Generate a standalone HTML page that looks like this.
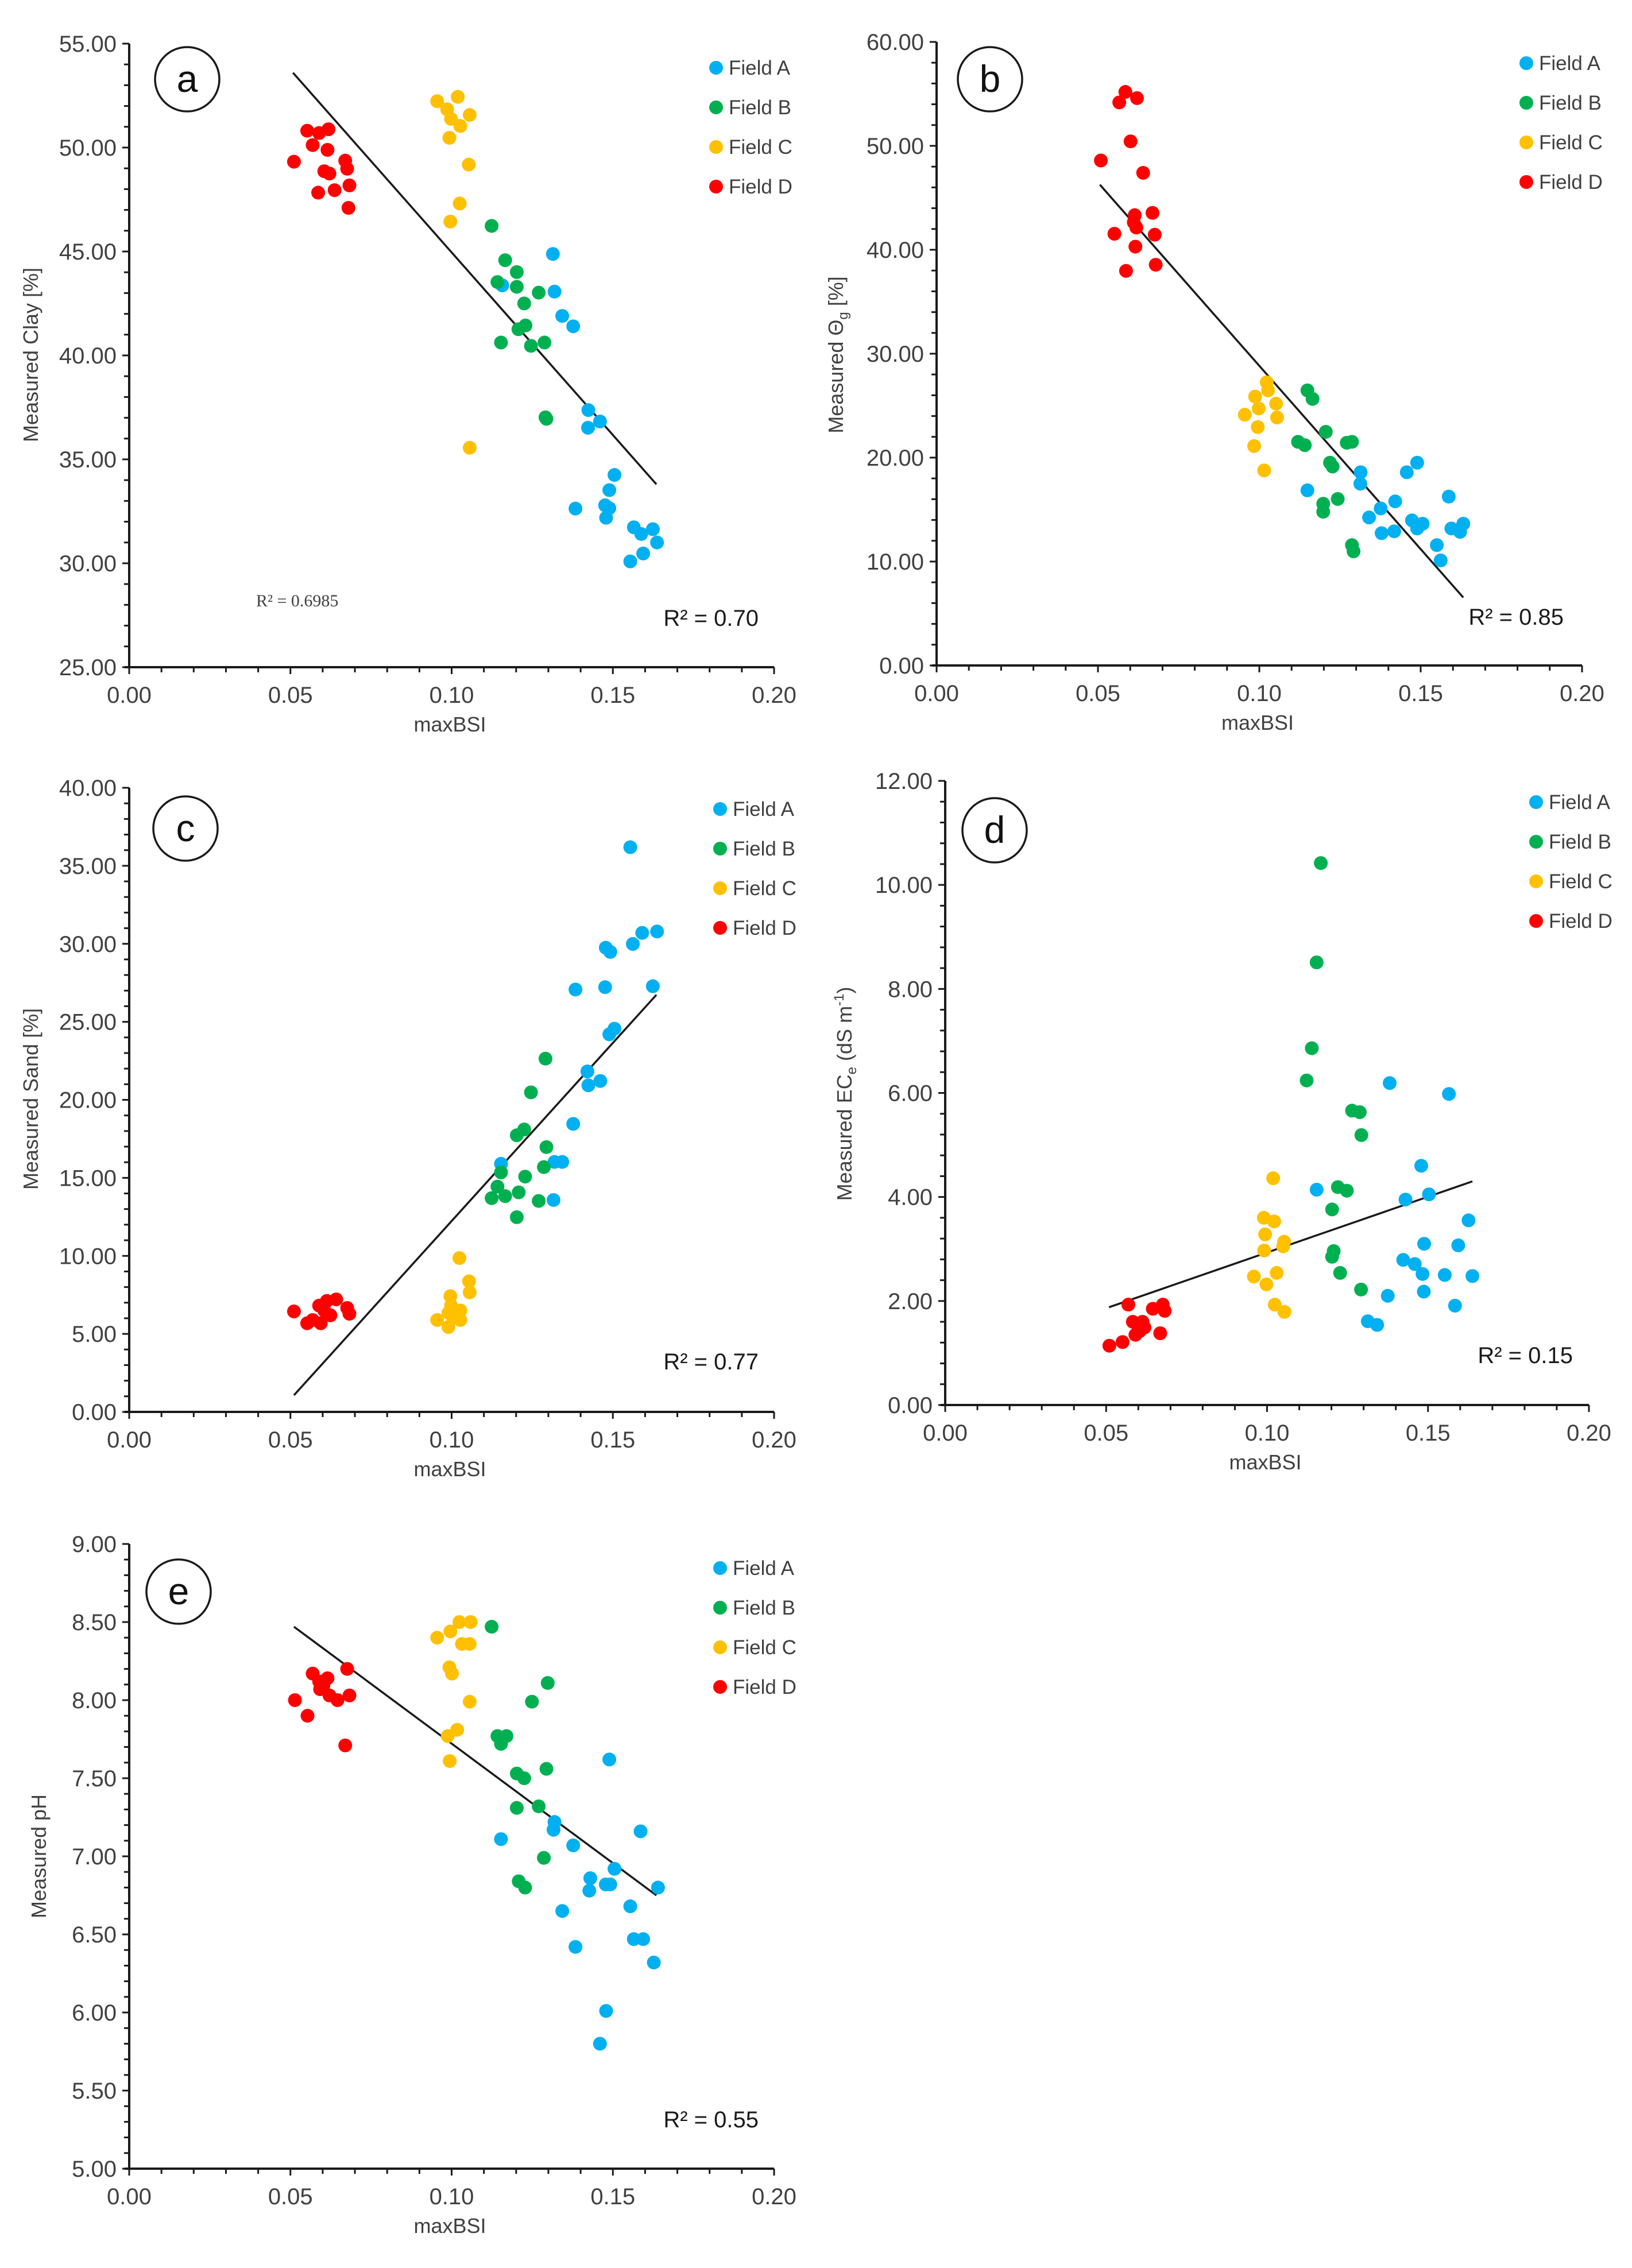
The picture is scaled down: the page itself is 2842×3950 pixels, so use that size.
<!DOCTYPE html>
<html><head><meta charset="utf-8"><style>
html,body{margin:0;padding:0;background:#fff;}
svg{display:block;}
text{font-family:"Liberation Sans",sans-serif;fill:#404040;}
</style></head><body>
<svg id="fig" xmlns="http://www.w3.org/2000/svg" width="2842" height="3950" viewBox="0 0 2842 3950"></svg>
<script>
// ---- data (maxBSI vs measured property) ----
const aAx=[.1314,.1157,.1319,.1343,.1377,.1424,.1423,.146,.1505,.1489,.1476,.1489,.1479,.1384,.1565,.1588,.1624,.1637,.1594,.1554];
const aAy=[44.88,43.37,43.07,41.90,41.40,37.37,36.52,36.82,34.25,33.52,32.79,32.65,32.19,32.63,31.73,31.41,31.64,31.00,30.47,30.09];
const aBx=[.1124,.1166,.1202,.1142,.1202,.127,.1225,.1229,.1207,.1246,.1153,.1288,.1291,.1294];
const aBy=[46.23,44.58,44.01,43.53,43.30,43.02,42.50,41.44,41.26,40.46,40.62,40.62,37.02,36.95];
const aCx=[.0955,.1019,.0986,.0998,.1027,.1056,.0993,.1053,.1025,.0996,.1056];
const aCy=[52.23,52.44,51.84,51.38,51.04,51.57,50.47,49.18,47.31,46.44,35.56];
const aDx=[.0511,.0552,.0569,.0589,.0618,.0615,.067,.0676,.0605,.0621,.0586,.0637,.0683,.068];
const aDy=[49.32,50.81,50.12,50.70,50.88,49.89,49.37,48.98,48.86,48.75,47.83,47.95,48.18,47.10];
const aLine=[[.0508,53.60],[.1635,33.80]];

const bAx=[.1149,.1314,.1313,.134,.1376,.1379,.1421,.1418,.1457,.1489,.1473,.1489,.1506,.155,.1562,.1587,.1595,.1622,.1632];
const bAy=[16.85,18.59,17.49,14.24,15.11,12.73,15.79,12.91,18.59,19.51,13.96,13.18,13.64,11.58,10.11,16.25,13.18,12.86,13.64];
const bBx=[.1149,.1165,.1206,.112,.1141,.1271,.1287,.1219,.1227,.1243,.1198,.1198,.1287,.1292];
const bBy=[26.47,25.65,22.48,21.52,21.20,21.43,21.52,19.51,19.14,16.02,15.56,14.79,11.58,10.98];
const bCx=[.1023,.1027,.0987,.1052,.1055,.0955,.0998,.0995,.0984,.1015];
const bCy=[27.25,26.47,25.87,25.19,23.86,24.13,24.73,22.94,21.11,18.77];
const bDx=[.0509,.0566,.0585,.0621,.0601,.064,.0551,.0614,.0611,.0619,.0616,.0669,.0676,.0679,.0587];
const bDy=[48.59,54.18,55.19,54.59,50.43,47.40,41.54,43.33,42.64,42.14,40.30,43.55,41.45,38.56,37.97];
const bLine=[[.0506,46.26],[.1632,6.54]];

const cAx=[.1554,.1637,.1591,.1562,.1478,.1492,.1384,.1476,.1624,.1505,.1489,.1421,.1424,.1461,.1377,.1153,.1319,.1343,.1316];
const cAy=[36.19,30.79,30.70,29.99,29.75,29.48,27.07,27.22,27.28,24.56,24.20,21.82,20.93,21.21,18.46,15.90,16.02,16.02,13.58];
const cBx=[.1291,.1246,.1202,.1225,.1294,.1153,.1228,.1286,.1142,.1124,.1166,.1208,.127,.1202];
const cBy=[22.64,20.48,17.73,18.10,16.97,15.35,15.08,15.69,14.44,13.70,13.83,14.07,13.52,12.48];
const cCx=[.1024,.1054,.1056,.0996,.0998,.099,.1027,.0955,.1027,.099,.1004];
const cCy=[9.86,8.37,7.66,7.42,6.81,6.35,6.50,5.89,5.89,5.44,6.05];
const cDx=[.0511,.0552,.0569,.0594,.0589,.0613,.0642,.0624,.0605,.0676,.0683];
const cDy=[6.44,5.68,5.89,5.68,6.81,7.11,7.21,6.19,6.50,6.66,6.29];
const cLine=[[.0511,1.07],[.1635,26.73]];

const dAx=[.1154,.1381,.1565,.1479,.143,.1503,.1626,.1488,.1594,.1423,.1459,.1483,.1552,.1638,.1487,.1375,.1584,.1313,.1342];
const dAy=[4.14,6.19,5.98,4.60,3.95,4.05,3.55,3.10,3.07,2.79,2.71,2.52,2.50,2.48,2.18,2.10,1.91,1.61,1.54];
const dBx=[.1167,.1154,.1139,.1123,.1264,.1288,.1293,.122,.1248,.1202,.1207,.1202,.1227,.1292];
const dBy=[10.42,8.51,6.86,6.24,5.66,5.63,5.19,4.19,4.12,3.76,2.96,2.85,2.54,2.22];
const dCx=[.1019,.099,.1022,.0994,.0991,.1053,.105,.0959,.103,.0998,.1024,.1054];
const dCy=[4.36,3.60,3.53,3.28,2.97,3.14,3.05,2.47,2.54,2.32,1.93,1.79];
const dDx=[.051,.0551,.0569,.0583,.0591,.0613,.0619,.0604,.0645,.0668,.0676,.0682];
const dDy=[1.14,1.21,1.93,1.60,1.35,1.60,1.49,1.42,1.85,1.38,1.93,1.81];
const dLine=[[.0509,1.88],[.1638,4.30]];

const eAx=[.1489,.1586,.1319,.1316,.1153,.1377,.1505,.143,.1427,.1478,.1492,.164,.1554,.1343,.1565,.1594,.1384,.1627,.1479,.146];
const eAy=[7.62,7.16,7.22,7.17,7.11,7.07,6.92,6.86,6.78,6.82,6.82,6.80,6.68,6.65,6.47,6.47,6.42,6.32,6.01,5.80];
const eBx=[.1124,.1298,.1249,.1142,.117,.1153,.1294,.1202,.1225,.127,.1202,.1286,.1208,.1228];
const eBy=[8.47,8.11,7.99,7.77,7.77,7.72,7.56,7.53,7.50,7.32,7.31,6.99,6.84,6.80];
const eCx=[.0955,.1024,.1059,.0996,.1032,.1056,.0993,.1001,.1056,.1017,.0988,.0994];
const eCy=[8.40,8.50,8.50,8.44,8.36,8.36,8.21,8.17,7.99,7.81,7.77,7.61];
const eDx=[.0514,.0553,.0569,.0592,.0615,.0602,.0621,.0646,.0676,.0683,.067,.0589];
const eDy=[8.00,7.90,8.17,8.07,8.14,8.09,8.03,8.00,8.20,8.03,7.71,8.12];
const eLine=[[.0511,8.47],[.1635,6.75]];

const xTicks=["0.00","0.05","0.10","0.15","0.20"];
const fieldNames=["Field A","Field B","Field C","Field D"];
const colors=["#00b0f0","#00b050","#ffc000","#ff0000"];

const NS="http://www.w3.org/2000/svg";
const svg=document.getElementById('fig');
function mk(tag,attrs,parent){const e=document.createElementNS(NS,tag);for(const k in attrs)e.setAttribute(k,attrs[k]);(parent||svg).appendChild(e);return e;}

function panel(cfg){
  const g=mk('g',{});
  
  
  const X=v=>cfg.x0+(v-0)/(0.2)*(cfg.x1-cfg.x0);
  const Y=v=>cfg.yb+(v-cfg.ymin)/(cfg.ymax-cfg.ymin)*(cfg.yt-cfg.yb);
  // axes
  const ax=mk('line',{x1:cfg.x0,y1:cfg.yt,x2:cfg.x0,y2:cfg.yb,stroke:'#1a1a1a','stroke-width':4},g);
  
  const axx=mk('line',{x1:cfg.x0-8,y1:cfg.yb,x2:cfg.x1,y2:cfg.yb,stroke:'#1a1a1a','stroke-width':4},g);
  
  // y ticks
  const nMaj=Math.round((cfg.ymax-cfg.ymin)/cfg.ystep);
  for(let i=0;i<=nMaj*5;i++){
    const v=cfg.ymin+i*cfg.ystep/5, y=Y(v), maj=i%5===0;
    mk('line',{x1:cfg.x0-(maj?12:9),y1:y,x2:cfg.x0,y2:y,stroke:'#1a1a1a','stroke-width':3},g);
    if(maj){const t=mk('text',{x:cfg.x0-22,y:y+14,'text-anchor':'end','font-size':40},g);t.textContent=v.toFixed(2);
      }
  }
  // x ticks
  for(let i=0;i<=20;i++){
    const x=X(i*0.01), maj=i%5===0;
    mk('line',{x1:x,y1:cfg.yb,x2:x,y2:cfg.yb+(maj?12:9),stroke:'#1a1a1a','stroke-width':3},g);
    if(maj){const t=mk('text',{x:x,y:cfg.yb+62,'text-anchor':'middle','font-size':40},g);t.textContent=xTicks[i/5];
      }
  }
  // trend line
  const tl=mk('line',{x1:X(cfg.line[0][0]),y1:Y(cfg.line[0][1]),x2:X(cfg.line[1][0]),y2:Y(cfg.line[1][1]),stroke:'#1a1a1a','stroke-width':3.5},g);
  
  // points
  cfg.series.forEach((s,si)=>{
    s[0].forEach((xv,k)=>{
      const c=mk('circle',{cx:X(xv),cy:Y(s[1][k]),r:12,fill:colors[si]},g);
      
      
    });
  });
  // legend
  for(let i=0;i<4;i++){
    const ly=cfg.leg[1]+i*69;
    const m=mk('circle',{cx:cfg.leg[0],cy:ly,r:12,fill:colors[i]},g);
    
    const t=mk('text',{x:cfg.leg[0]+22,y:ly+12,'font-size':35},g);t.textContent=fieldNames[i];
    
  }
  // panel label
  const pc=mk('circle',{cx:cfg.lab[0],cy:cfg.lab[1],r:56,fill:'none',stroke:'#1a1a1a','stroke-width':3.5},g);
  
  const pt=mk('text',{x:cfg.lab[0],y:cfg.lab[1]+22,'text-anchor':'middle','font-size':66,style:'fill:#111'},g);pt.textContent=cfg.id;
  
  // R2
  const r=mk('text',{x:cfg.r2[0],y:cfg.r2[1]+14,'text-anchor':'end','font-size':40,style:'fill:#1a1a1a'},g);r.textContent=cfg.r2t;
  
  // axis titles
  const xt=mk('text',{x:(cfg.x0+cfg.x1)/2-3,y:cfg.yb+112,'text-anchor':'middle','font-size':36},g);xt.textContent='maxBSI';
  
  const yt=mk('text',{x:0,y:0,'text-anchor':'middle','font-size':36,transform:`translate(${cfg.yl[0]+12},${cfg.yl[1]}) rotate(-90)`},g);
  yt.innerHTML=cfg.ytitle;
  
  return g;
}

panel({id:'a',x0:225,x1:1348,yt:76,yb:1162,ymin:25,ymax:55,ystep:5,line:aLine,
  series:[[aAx,aAy],[aBx,aBy],[aCx,aCy],[aDx,aDy]],leg:[1247,118],lab:[326,138],r2:[1321,1076],r2t:'R² = 0.70',
  yl:[54,618],ytitle:'Measured Clay [%]'});
panel({id:'b',x0:1631,x1:2755,yt:73,yb:1159,ymin:0,ymax:60,ystep:10,line:bLine,
  series:[[bAx,bAy],[bBx,bBy],[bCx,bCy],[bDx,bDy]],leg:[2658,110],lab:[1724,138],r2:[2723,1074],r2t:'R² = 0.85',
  yl:[1456,618],ytitle:'Measured Θ<tspan font-size="24" dy="8">g</tspan><tspan dy="-8"> [%]</tspan>'});
panel({id:'c',x0:225,x1:1348,yt:1372,yb:2459,ymin:0,ymax:40,ystep:5,line:cLine,
  series:[[cAx,cAy],[cBx,cBy],[cCx,cCy],[cDx,cDy]],leg:[1254,1409],lab:[323,1443],r2:[1321,2371],r2t:'R² = 0.77',
  yl:[54,1914],ytitle:'Measured Sand [%]'});
panel({id:'d',x0:1646,x1:2767,yt:1360,yb:2447,ymin:0,ymax:12,ystep:2,line:dLine,
  series:[[dAx,dAy],[dBx,dBy],[dCx,dCy],[dDx,dDy]],leg:[2675,1397],lab:[1732,1446],r2:[2739,2360],r2t:'R² = 0.15',
  yl:[1471,1905],ytitle:'Measured EC<tspan font-size="24" dy="8">e</tspan><tspan dy="-8"> (dS m</tspan><tspan font-size="24" dy="-14">-1</tspan><tspan dy="14">)</tspan>'});
panel({id:'e',x0:225,x1:1348,yt:2689,yb:3777,ymin:5,ymax:9,ystep:0.5,line:eLine,
  series:[[eAx,eAy],[eBx,eBy],[eCx,eCy],[eDx,eDy]],leg:[1254,2731],lab:[311,2772],r2:[1321,3691],r2t:'R² = 0.55',
  yl:[68,3233],ytitle:'Measured pH'});

// extra annotation in panel a
const extra=mk('text',{x:446,y:1056,'font-size':30,style:'font-family:"Liberation Serif",serif;fill:#404040'});
extra.textContent='R² = 0.6985';


</script>
</body></html>
